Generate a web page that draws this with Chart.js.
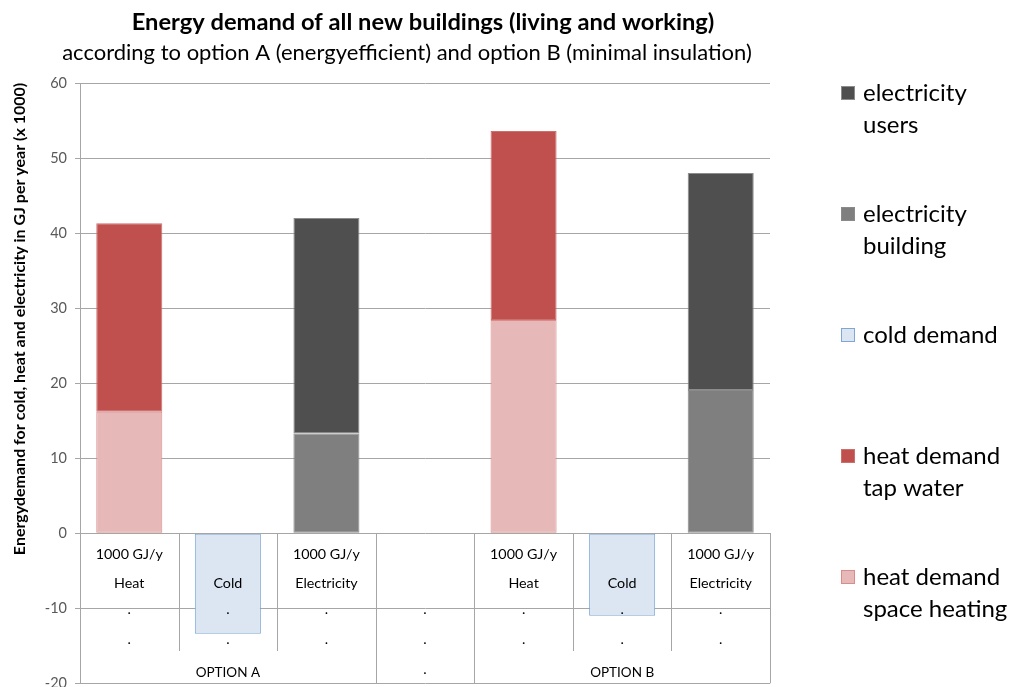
<!DOCTYPE html>
<html><head><meta charset="utf-8">
<script src="https://cdn.jsdelivr.net/npm/chart.js@4/dist/chart.umd.min.js"></script>
<style>
html,body{margin:0;padding:0;overflow:hidden;background:#fff}
#wrap{width:1014px;height:687px;overflow:hidden;position:relative}
canvas{display:block}
</style></head><body>
<div id="wrap"><canvas id="c" width="1014" height="700"></canvas></div>
<script>
// ---- data ----
const categories   = ["Heat", "Cold", "Electricity", "", "Heat", "Cold", "Electricity"];
const unitLabels   = ["1000 GJ/y", "", "1000 GJ/y", "", "1000 GJ/y", "", "1000 GJ/y"];
const groupLabels  = ["OPTION A", "", "OPTION B"];
const groupSpans   = [3, 1, 3];
const spaceHeating = [16.2, null, null, null, 28.4, null, null];
const tapWater     = [25.1, null, null, null, 25.2, null, null];
const coldDemand   = [null, -13.4, null, null, null, -11.0, null];
const elecBuilding = [null, null, 13.3, null, null, null, 19.1];
const elecUsers    = [null, null, 28.7, null, null, null, 28.9];
const yMin = -20, yMax = 60, yStep = 10;
const titleText    = "Energy demand of all new buildings (living and working)";
const subtitleText = "according to option A (energyefficient) and option B (minimal insulation)";
const yAxisTitle   = "Energydemand for cold, heat and electricity in GJ per year (x 1000)";
const legendOrder  = [
  {label: ["electricity", "users"], ds: 4},
  {label: ["electricity", "building"], ds: 3},
  {label: ["cold demand"], ds: 2},
  {label: ["heat demand", "tap water"], ds: 1},
  {label: ["heat demand", "space heating"], ds: 0}
];

const FONT = "Lato, 'Liberation Sans', sans-serif";

const decorPlugin = {
  id: 'decor',
  afterDraw(chart) {
    const ctx = chart.ctx, xs = chart.scales.x, ys = chart.scales.y, ca = chart.chartArea;
    const y0 = Math.round(ys.getPixelForValue(0));
    const n = categories.length;
    const half = (xs.getPixelForValue(1) - xs.getPixelForValue(0)) / 2;
    ctx.save();
    // separators
    ctx.strokeStyle = '#a6a6a6'; ctx.lineWidth = 1;
    const groupBounds = new Set(); let acc = 0;
    groupSpans.forEach(s => { acc += s; groupBounds.add(acc); });
    for (let i = 1; i <= n; i++) {
      const bx = Math.round(xs.getPixelForValue(i - 1) + half) + 0.5;
      const yEnd = groupBounds.has(i) ? ca.bottom : y0 + 118;
      ctx.beginPath(); ctx.moveTo(bx, y0); ctx.lineTo(bx, yEnd); ctx.stroke();
    }
    // inner labels
    ctx.fillStyle = '#000';
    ctx.font = "14.3px " + FONT;
    ctx.textAlign = 'center';
    for (let i = 0; i < n; i++) {
      const cx = xs.getPixelForValue(i);
      ctx.textBaseline = 'middle';
      if (unitLabels[i]) ctx.fillText(unitLabels[i], cx, y0 + 21);
      if (categories[i]) ctx.fillText(categories[i], cx, y0 + 50);
      ctx.textBaseline = 'alphabetic';
      ctx.fillText('.', cx, y0 + 81);
      ctx.fillText('.', cx, y0 + 111);
    }
    // group labels
    ctx.font = "13.5px " + FONT;
    let start = 0;
    groupSpans.forEach((s, g) => {
      const cx = (xs.getPixelForValue(start) + xs.getPixelForValue(start + s - 1)) / 2;
      ctx.textBaseline = 'middle';
      if (groupLabels[g]) ctx.fillText(groupLabels[g], cx, y0 + 140);
      else { ctx.font = "14.3px " + FONT; ctx.textBaseline = 'alphabetic'; ctx.fillText('.', cx, y0 + 141); ctx.font = "13.5px " + FONT; }
      start += s;
    });
    // titles
    ctx.fillStyle = '#000';
    ctx.textBaseline = 'middle';
    ctx.font = "bold 23.7px " + FONT;
    ctx.fillText(titleText, 423, 22);
    ctx.font = "22px " + FONT;
    ctx.fillText(subtitleText, 407, 53);
    // y axis title
    ctx.save();
    ctx.translate(20, 319);
    ctx.rotate(-Math.PI / 2);
    ctx.font = "bold 16px " + FONT;
    ctx.fillText(yAxisTitle, 0, 0);
    ctx.restore();
    // legend
    ctx.textAlign = 'left';
    ctx.font = "24px " + FONT;
    legendOrder.forEach((item, k) => {
      const ds = chart.data.datasets[item.ds];
      const cy = 93 + k * 121;
      ctx.fillStyle = ds.backgroundColor;
      ctx.fillRect(841, cy - 7, 14, 14);
      ctx.strokeStyle = ds.borderColor; ctx.lineWidth = 1;
      ctx.strokeRect(841.5, cy - 6.5, 13, 13);
      ctx.fillStyle = '#000';
      item.label.forEach((line, j) => ctx.fillText(line, 863, cy + j * 32));
    });
    ctx.restore();
  }
};

const common = {borderWidth: 1, borderSkipped: false, barPercentage: 0.67, categoryPercentage: 1.0};
new Chart(document.getElementById('c'), {
  type: 'bar',
  data: {
    labels: categories,
    datasets: [
      {label: 'heat demand space heating', data: spaceHeating, backgroundColor: '#e6b9b8', borderColor: '#d98c8b', ...common},
      {label: 'heat demand tap water', data: tapWater, backgroundColor: '#c0504d', borderColor: '#cc6f6d', ...common},
      {label: 'cold demand', data: coldDemand, backgroundColor: '#dce6f2', borderColor: '#7ea6d6', ...common},
      {label: 'electricity building', data: elecBuilding, backgroundColor: '#7f7f7f', borderColor: '#8a8a8a', ...common},
      {label: 'electricity users', data: elecUsers, backgroundColor: '#4f4f4f', borderColor: '#8c8c8c', ...common}
    ]
  },
  options: {
    responsive: false, animation: false, devicePixelRatio: 1,
    layout: {padding: {top: 83, right: 244, bottom: 15, left: 0}},
    plugins: {legend: {display: false}, tooltip: {enabled: false}, title: {display: false}},
    scales: {
      x: {stacked: true, display: false},
      y: {
        stacked: true, min: yMin, max: yMax,
        ticks: {stepSize: yStep, padding: 8, color: '#595959', font: {family: FONT, size: 14.5}},
        grid: {color: '#a6a6a6', lineWidth: 1, tickLength: 5, drawTicks: true},
        border: {display: true, color: '#a6a6a6'},
        afterFit(s) { s.width = 80; }
      }
    }
  },
  plugins: [decorPlugin]
});
</script>
</body></html>
